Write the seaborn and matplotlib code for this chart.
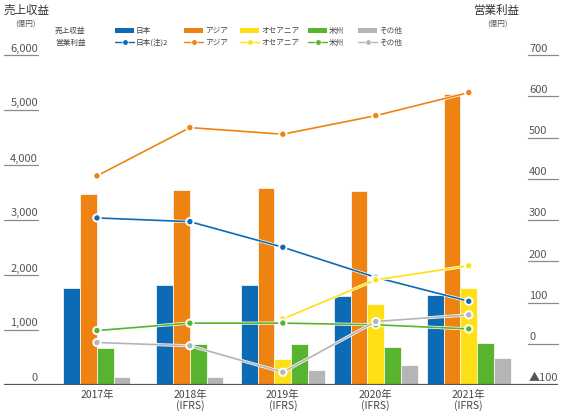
import numpy as np
import pandas as pd
import matplotlib
matplotlib.use('Agg')
import matplotlib.pyplot as plt
import matplotlib.patheffects as pe
from matplotlib.patches import Rectangle
from matplotlib.lines import Line2D
import matplotlib.transforms as mtransforms
import seaborn as sns

# データ
years = ['2017年', '2018年\n(IFRS)', '2019年\n(IFRS)', '2020年\n(IFRS)', '2021年\n(IFRS)']
regions = ['日本', 'アジア', 'オセアニア', '米州', 'その他']
line_labels = ['日本(注)2', 'アジア', 'オセアニア', '米州', 'その他']

# 売上収益 (億円)
sales_japan = [1760, 1820, 1820, 1610, 1640]
sales_asia = [3470, 3550, 3580, 3530, 5290]
sales_oceania = [0, 0, 470, 1470, 1760]
sales_americas = [670, 745, 745, 690, 760]
sales_other = [140, 140, 280, 370, 500]

# 営業利益 (億円)
op_japan = [305, 296, 234, 161, 103]
op_asia = [407, 524, 508, 553, 609]
op_oceania = [np.nan, np.nan, 60, 155, 189]
op_americas = [32, 50, 50, 46, 36]
op_other = [3, -5, -69, 54, 70]

left_ticks = [0, 1000, 2000, 3000, 4000, 5000, 6000]
right_ticks = [-100, 0, 100, 200, 300, 400, 500, 600, 700]

colors = ['#0D6AB4', '#EE8311', '#FFE014', '#58B42F', '#B3B5B7']

sns.set_theme(style='white')
plt.rcParams['font.family'] = ['Noto Sans CJK JP', 'DejaVu Sans']

W, H = 567, 414
fig = plt.figure(figsize=(W / 100, H / 100), dpi=100)
ax = fig.add_axes([4 / W, 1 - 386 / H, 554 / W, 330 / H])
ax2 = ax.twinx()

sales = [sales_japan, sales_asia, sales_oceania, sales_americas, sales_other]
ops = [op_japan, op_asia, op_oceania, op_americas, op_other]

# 棒グラフ (値のない地域は詰めて並べる)
bar_w = 0.18
for i in range(len(years)):
    present = [r for r in range(len(regions)) if sales[r][i] > 0]
    n = len(present)
    for k, r in enumerate(present):
        ax.bar(i + (k - (n - 1) / 2) * bar_w, sales[r][i], width=bar_w,
               color=colors[r], edgecolor='white', linewidth=0.5, zorder=2)

# 営業利益の折れ線
rows = []
for r in range(len(regions)):
    for i in range(len(years)):
        if not np.isnan(ops[r][i]):
            rows.append({'pos': i, 'value': ops[r][i], 'region': regions[r]})
df_op = pd.DataFrame(rows)
sns.lineplot(data=df_op, x='pos', y='value', hue='region', hue_order=regions,
             palette=colors, marker='o', markersize=4.5, linewidth=1.2,
             markeredgecolor='white', markeredgewidth=0.6,
             path_effects=[pe.Stroke(linewidth=2.2, foreground='white'), pe.Normal()],
             legend=False, ax=ax2, zorder=3)

ax.set_xlim(-1.0, 4.96)
ax.set_ylim(0, 6000)
ax2.set_ylim(-100, 700)
for a in (ax, ax2):
    for s in a.spines.values():
        s.set_visible(False)
    a.set_yticks([])
    a.set_ylabel('')
    a.set_xlabel('')
    a.grid(False)
ax2.set_zorder(ax.get_zorder() + 1)
ax2.patch.set_visible(False)

ax.set_xticks(range(len(years)))
ax.set_xticklabels(years, fontsize=7.5, color='#444444', linespacing=1.05)
ax.tick_params(axis='x', length=0, pad=2.5)

ax.axhline(0, color='#555555', lw=1.6, zorder=4)

# 目盛ラベル (数字の下に短い線)
tr_l = mtransforms.blended_transform_factory(ax.transAxes, ax.transData)
tr_l_txt = mtransforms.offset_copy(tr_l, fig=fig, x=0, y=2.5, units='dots')
for v in left_ticks:
    ax.text(34 / 554, v, f'{v:,}', transform=tr_l_txt, ha='right', va='bottom',
            fontsize=8, color='#555555')
    if v > 0:
        ax.plot([0, 34 / 554], [v, v], transform=tr_l, color='#8a8a8a', lw=0.9,
                clip_on=False)

tr_r = mtransforms.blended_transform_factory(ax2.transAxes, ax2.transData)
tr_r_txt = mtransforms.offset_copy(tr_r, fig=fig, x=0, y=2.5, units='dots')
for v in right_ticks:
    lab = f'▲{abs(v)}' if v < 0 else f'{v}'
    ax2.text(525 / 554, v, lab, transform=tr_r_txt, ha='left', va='bottom',
             fontsize=8, color='#555555')
    if v > -100:
        ax2.plot([524 / 554, 1], [v, v], transform=tr_r, color='#8a8a8a', lw=0.9,
                 clip_on=False)

# 軸タイトル
def fx(x):
    return x / W

def fy(y):
    return 1 - y / H

fig.text(fx(26), fy(10), '売上収益', ha='center', va='center', fontsize=8.3, color='#333333')
fig.text(fx(26), fy(23.5), '(億円)', ha='center', va='center', fontsize=5.5, color='#555555')
fig.text(fx(497), fy(10), '営業利益', ha='center', va='center', fontsize=8.3, color='#333333')
fig.text(fx(497), fy(23.5), '(億円)', ha='center', va='center', fontsize=5.5, color='#555555')

# 凡例
fig.text(fx(55), fy(31), '売上収益', ha='left', va='center', fontsize=5.5, color='#444444')
fig.text(fx(55), fy(43), '営業利益', ha='left', va='center', fontsize=5.5, color='#444444')
patch_x = [115, 184, 240, 308, 358]
for r in range(len(regions)):
    x0 = patch_x[r]
    fig.add_artist(Rectangle((fx(x0), fy(33.5)), 19 / W, 5 / H, transform=fig.transFigure,
                             facecolor=colors[r], edgecolor='none'))
    fig.text(fx(x0 + 21), fy(31), regions[r], ha='left', va='center', fontsize=5.5,
             color='#444444')
    fig.add_artist(Line2D([fx(x0), fx(x0 + 19)], [fy(43), fy(43)], transform=fig.transFigure,
                          color=colors[r], lw=1.0))
    fig.add_artist(Line2D([fx(x0 + 9.5)], [fy(43)], transform=fig.transFigure,
                          color=colors[r], marker='o', markersize=4, markeredgecolor='white',
                          markeredgewidth=0.5, lw=0))
    fig.text(fx(x0 + 21), fy(43), line_labels[r], ha='left', va='center', fontsize=5.5,
             color='#444444')

fig.savefig('out.png', dpi=100)
